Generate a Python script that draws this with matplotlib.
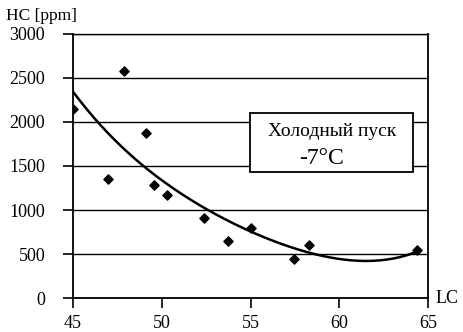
import numpy as np
import matplotlib.pyplot as plt

lc = [45.0, 46.95, 47.87, 49.1, 49.56, 50.28, 52.38, 53.73, 55.03, 57.47, 58.3, 64.4]
hc = [2150, 1350, 2580, 1875, 1285, 1170, 905, 650, 790, 440, 600, 540]

# points on the drawn trendline
trend_lc = [45.0, 46.37, 49.06, 52.44, 55.0, 57.23, 58.9, 62.3, 64.45]
trend_hc = [2345, 2000, 1500, 1000, 760, 580, 500, 413, 538]

x_ticks = [45, 50, 55, 60, 65]
y_ticks = [0, 500, 1000, 1500, 2000, 2500, 3000]

plt.rcParams['font.family'] = ['Liberation Serif', 'DejaVu Serif']

fig = plt.figure(figsize=(4.63, 3.32), dpi=100)
ax = fig.add_axes([0.1577, 0.1024, 0.7667, 0.7952])

# smooth trendline through the read curve points
coef = np.polyfit(trend_lc, trend_hc, 4)
xs = np.linspace(trend_lc[0], trend_lc[-1], 200)
ax.plot(xs, np.polyval(coef, xs), color='black', lw=1.8, zorder=3)

ax.scatter(lc, hc, marker='D', s=22, color='black', zorder=4)

ax.set_xlim(45, 65)
ax.set_ylim(0, 3000)
ax.set_xticks(x_ticks)
ax.set_yticks(y_ticks)
ax.grid(axis='y', color='black', lw=1.0)
ax.tick_params(direction='out', length=7, width=1.2, labelsize=13, colors='black')
ax.tick_params(axis='y', pad=13)
ax.tick_params(axis='x', pad=5)
for s in ['left', 'bottom', 'right']:
    ax.spines[s].set_linewidth(1.3)
ax.spines['top'].set_linewidth(1.0)

fig.text(0.014, 0.952, 'HC [ppm]', fontsize=12.5, ha='left', va='center')
fig.text(0.94, 0.10, 'LC', fontsize=13, ha='left', va='center')

box = plt.Rectangle((0.4986, 0.477), 0.4594, 0.223, transform=ax.transAxes,
                    facecolor='white', edgecolor='black', lw=1.3, zorder=5)
ax.add_patch(box)
ax.text(0.729, 0.63, 'Холодный пуск', transform=ax.transAxes, fontsize=14,
        ha='center', va='center', zorder=6)
ax.text(0.70, 0.53, '-7\u00b0C', transform=ax.transAxes, fontsize=17,
        ha='center', va='center', zorder=6)

plt.savefig('out.png', dpi=100)
